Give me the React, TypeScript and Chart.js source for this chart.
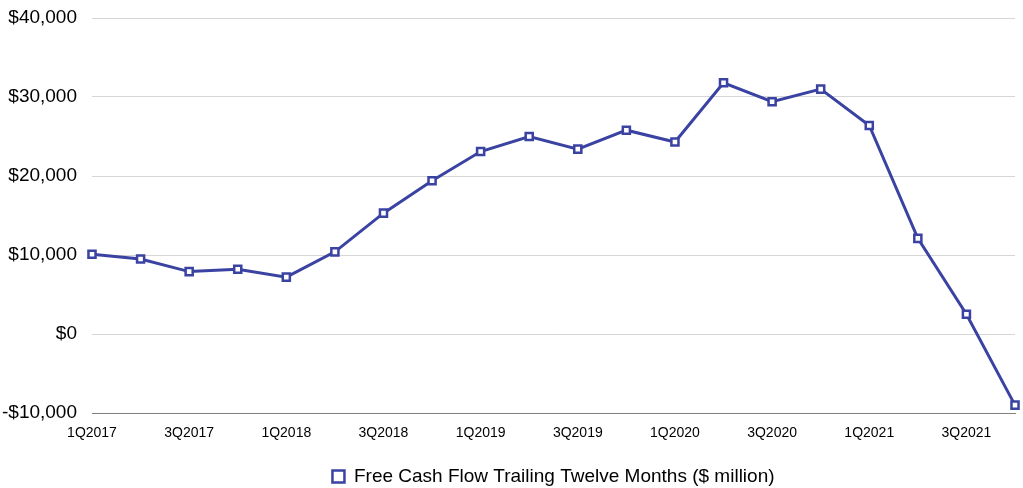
import React, { useEffect, useRef } from "react";
import { Chart, registerables } from "chart.js";

Chart.register(...registerables);

const categories = [
  "1Q2017", "2Q2017", "3Q2017", "4Q2017",
  "1Q2018", "2Q2018", "3Q2018", "4Q2018",
  "1Q2019", "2Q2019", "3Q2019", "4Q2019",
  "1Q2020", "2Q2020", "3Q2020", "4Q2020",
  "1Q2021", "2Q2021", "3Q2021", "4Q2021",
];

const freeCashFlowTTM = [
  10100, 9500, 7900, 8200,
  7200, 10400, 15300, 19400,
  23100, 25000, 23400, 25800,
  24300, 31800, 29400, 31000,
  26400, 12100, 2500, -9000,
];

const seriesLabel = "Free Cash Flow Trailing Twelve Months ($ million)";
const yMin = -10000;
const yMax = 40000;
const yStep = 10000;

const LINE_COLOR = "#3a42a2";
const FONT = "'Liberation Sans', Arial, Helvetica, sans-serif";

function formatMoney(v: number): string {
  const abs = Math.abs(v).toLocaleString("en-US");
  return (v < 0 ? "-$" : "$") + abs;
}

export default function App() {
  const canvasRef = useRef<HTMLCanvasElement | null>(null);

  useEffect(() => {
    const canvas = canvasRef.current;
    if (!canvas) return;
    const chart = new Chart(canvas, {
      type: "line",
      data: {
        labels: categories,
        datasets: [
          {
            label: seriesLabel,
            data: freeCashFlowTTM,
            borderColor: LINE_COLOR,
            backgroundColor: "#ffffff",
            borderWidth: 3,
            pointStyle: "rect",
            pointRadius: 5,
            pointBorderWidth: 2.5,
            pointBackgroundColor: "#ffffff",
            pointBorderColor: LINE_COLOR,
            tension: 0,
            clip: false as any,
          },
        ],
      },
      options: {
        animation: false,
        responsive: false,
        maintainAspectRatio: false,
        layout: { padding: { top: 18, right: 8, left: 0, bottom: 0 } },
        plugins: {
          tooltip: { enabled: false },
          legend: {
            position: "bottom",
            fullSize: false,
            labels: {
              usePointStyle: true,
              boxWidth: 12,
              boxHeight: 12,
              padding: 2,
              color: "#000",
              font: { family: FONT, size: 19 },
            },
          },
        },
        scales: {
          x: {
            offset: false,
            grid: { display: false, drawTicks: false },
            border: { display: true, color: "#7f7f7f", width: 1 },
            ticks: {
              autoSkip: false,
              maxRotation: 0,
              minRotation: 0,
              padding: 12,
              color: "#000",
              font: { family: FONT, size: 14 },
              callback: (_v: any, i: number) => (i % 2 === 0 ? categories[i] : ""),
            },
            afterFit: (scale: any) => {
              scale.height = 52;
              scale.paddingLeft = 0;
              scale.paddingRight = 0;
            },
          },
          y: {
            min: yMin,
            max: yMax,
            grid: {
              drawTicks: false,
              color: (ctx: any) => (ctx.tick && ctx.tick.value === yMin ? "#7f7f7f" : "#d6d6d6"),
              lineWidth: 1,
            },
            border: { display: false },
            ticks: {
              stepSize: yStep,
              padding: 15,
              color: "#000",
              font: { family: FONT, size: 19 },
              callback: (v: any) => formatMoney(Number(v)),
            },
            afterFit: (scale: any) => {
              scale.width = 92;
              scale.paddingTop = 0;
              scale.paddingBottom = 0;
            },
          },
        },
      },
    });
    return () => chart.destroy();
  }, []);

  return (
    <div style={{ position: "absolute", left: 0, top: 0, width: 1023, height: 488, overflow: "hidden", background: "#fff" }}>
      <canvas ref={canvasRef} width={1023} height={496} style={{ display: "block" }} />
    </div>
  );
}
